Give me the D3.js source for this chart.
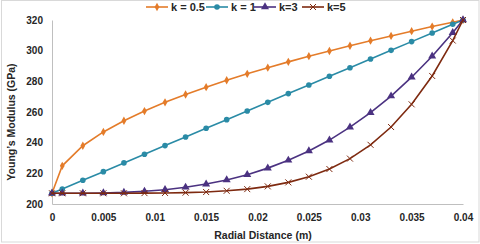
<!DOCTYPE html>
<html>
<head>
<meta charset="utf-8">
<script src="https://cdn.jsdelivr.net/npm/d3@7"></script>
<style>
  body { margin: 0; background: #fff; }
  svg text { font-family: "Liberation Sans", Arial, sans-serif; font-weight: bold; fill: #262626; }
</style>
</head>
<body>
<script>
// chart size
var w = 480;
var h = 244;

// radial positions (m)
var radius = [0, 0.001, 0.003, 0.005, 0.007, 0.009, 0.011, 0.013, 0.015, 0.017, 0.019,
              0.021, 0.023, 0.025, 0.027, 0.029, 0.031, 0.033, 0.035, 0.037, 0.039, 0.04];

// Young's modulus (GPa) for each k
var k05 = [207, 224.9, 238, 247, 254.3, 260.6, 266.3, 271.4, 276.2, 280.7, 284.9,
           288.9, 292.7, 296.4, 299.8, 303.2, 306.5, 309.6, 312.7, 315.7, 318.5, 320];
var k1  = [207, 209.8, 215.5, 221.1, 226.8, 232.4, 238.1, 243.7, 249.4, 255, 260.7,
           266.3, 272, 277.6, 283.3, 288.9, 294.6, 300.2, 305.9, 311.5, 317.2, 320];
var k3  = [207, 207, 207, 207.2, 207.6, 208.3, 209.3, 210.9, 213, 215.7, 219.1,
           223.4, 228.5, 234.6, 241.7, 250.1, 259.6, 270.4, 282.7, 296.4, 311.7, 320];
var k5  = [207, 207, 207, 207, 207, 207.1, 207.2, 207.4, 207.8, 208.6, 209.7,
           211.5, 214.1, 217.8, 222.8, 229.6, 238.6, 250.2, 265, 283.5, 306.6, 320];

var seriesNames = ["k = 0.5", "k = 1", "k=3", "k=5"];
var xTicks = [0, 0.005, 0.01, 0.015, 0.02, 0.025, 0.03, 0.035, 0.04];
var yTicks = [200, 220, 240, 260, 280, 300, 320];

var series = [
  { name: seriesNames[0], values: k05, color: "#E47C2A", marker: "diamond" },
  { name: seriesNames[1], values: k1,  color: "#2A8BA6", marker: "circle" },
  { name: seriesNames[2], values: k3,  color: "#4B3281", marker: "triangle" },
  { name: seriesNames[3], values: k5,  color: "#7E2A10", marker: "cross" }
];

var svg = d3.select("body").append("svg")
    .attr("width", w)
    .attr("height", h);

// outer chart border
svg.append("rect")
    .attr("x", 1.5).attr("y", 0.5)
    .attr("width", w - 2.5).attr("height", h - 2.5)
    .attr("fill", "none")
    .attr("stroke", "#D9D9D9");

var xScale = d3.scaleLinear().domain([0, 0.04]).range([52, 463]);
var yScale = d3.scaleLinear().domain([200, 320]).range([204, 20]);

// axes (no tick marks, just the lines and labels)
var xAxis = d3.axisBottom(xScale).tickValues(xTicks).tickSize(0).tickPadding(10)
    .tickFormat(function(d) { return d === 0 ? "0" : String(+d.toFixed(3)); });
var yAxis = d3.axisLeft(yScale).tickValues(yTicks).tickSize(0).tickPadding(9);

var gx = svg.append("g")
    .attr("transform", "translate(0," + yScale(200) + ")")
    .call(xAxis);
var gy = svg.append("g")
    .attr("transform", "translate(" + xScale(0) + ",0)")
    .call(yAxis);

[gx, gy].forEach(function(g) {
  g.select(".domain").attr("stroke", "#BFBFBF");
  g.selectAll("text").attr("font-size", "10px")
      .attr("font-family", "Liberation Sans, Arial, sans-serif")
      .attr("font-weight", "bold").attr("fill", "#262626");
});

// axis titles
svg.append("text")
    .attr("x", 263).attr("y", 239)
    .attr("text-anchor", "middle")
    .attr("font-size", "10.5px")
    .text("Radial Distance (m)");

svg.append("text")
    .attr("transform", "translate(15,122) rotate(-90)")
    .attr("text-anchor", "middle")
    .attr("font-size", "10.5px")
    .text("Young\u2019s Modulus (GPa)");

// marker drawing
function drawMarker(g, type, color) {
  if (type === "diamond") {
    g.append("path").attr("d", d3.symbol().type(d3.symbolDiamond).size(20))
        .attr("fill", color);
  } else if (type === "circle") {
    g.append("circle").attr("r", 2.8).attr("fill", color);
  } else if (type === "triangle") {
    g.append("path").attr("d", d3.symbol().type(d3.symbolTriangle).size(28))
        .attr("fill", color);
  } else {
    g.append("path").attr("d", "M-3,-3L3,3M-3,3L3,-3")
        .attr("stroke", color).attr("stroke-width", 1).attr("fill", "none");
  }
}

var line = d3.line()
    .x(function(d) { return xScale(d[0]); })
    .y(function(d) { return yScale(d[1]); });

series.forEach(function(s) {
  var pts = radius.map(function(r, i) { return [r, s.values[i]]; });
  svg.append("path")
      .datum(pts)
      .attr("d", line)
      .attr("fill", "none")
      .attr("stroke", s.color)
      .attr("stroke-width", 1.6);
  svg.selectAll(null)
      .data(pts)
      .enter()
      .append("g")
      .attr("transform", function(d) { return "translate(" + xScale(d[0]) + "," + yScale(d[1]) + ")"; })
      .each(function() { drawMarker(d3.select(this), s.marker, s.color); });
});

// legend
var legendX = [146, 206, 254, 302];
var legend = svg.append("g");
series.forEach(function(s, i) {
  var g = legend.append("g").attr("transform", "translate(" + legendX[i] + ",7)");
  g.append("line").attr("x1", 0).attr("x2", 22).attr("y1", 0).attr("y2", 0)
      .attr("stroke", s.color).attr("stroke-width", 1.6);
  drawMarker(g.append("g").attr("transform", "translate(11,0)"), s.marker, s.color);
  g.append("text").attr("x", 25).attr("y", 4)
      .attr("font-size", "11px")
      .text(s.name);
});
</script>
</body>
</html>
